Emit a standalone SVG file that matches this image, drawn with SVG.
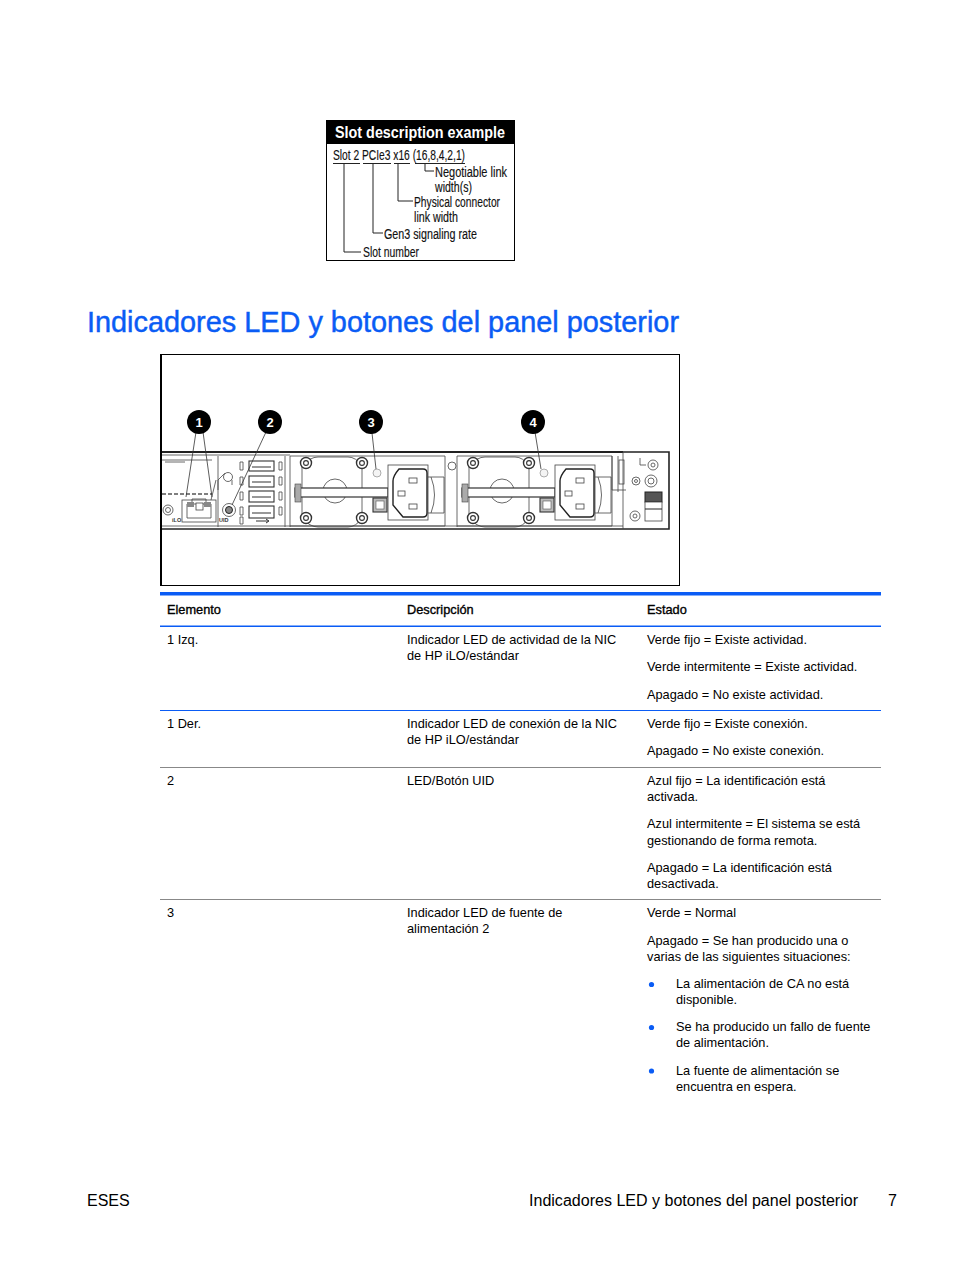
<svg xmlns="http://www.w3.org/2000/svg" xmlns:xlink="http://www.w3.org/1999/xlink" width="954" height="1270" viewBox="0 0 954 1270">
<style>
text{font-family:"Liberation Sans",Arial,sans-serif;fill:#000}
.t{font-size:12.78px}
.h{font-size:12.78px;stroke:#000;stroke-width:.35}
.f{font-size:16px}
.s{font-size:14px;fill:#111;stroke:#111;stroke-width:.15}
.l{stroke:#222;stroke-width:1;fill:none}
.k{stroke:#444;stroke-width:.8;fill:none}
.kw{stroke:#444;stroke-width:.8;fill:#fff}
.lead{stroke:#333;stroke-width:.8;fill:none}
.n{font-size:13px;font-weight:bold;text-anchor:middle}
</style>
<defs>
<g id="screw"><circle r="5.500" fill="#fff" stroke="#333" stroke-width="1.400"/><circle r="2.400" fill="#fff" stroke="#333" stroke-width="1.100"/></g>
<g id="psu">
<path class="k" d="M302 466Q310 457 318 457H348Q356 457 362 466V518Q356 527 348 527H318Q310 527 302 518Z"/>
<circle class="k" cx="335" cy="491" r="12"/>
<use xlink:href="#screw" x="306" y="463"/><use xlink:href="#screw" x="362" y="463"/>
<use xlink:href="#screw" x="306" y="518"/><use xlink:href="#screw" x="362" y="518"/>
<rect x="295" y="488" width="93" height="9" fill="#fff" stroke="#333" stroke-width="1.200"/>
<rect x="295" y="484" width="6" height="18" fill="#aaa" stroke="#444" stroke-width=".6"/>
<rect x="373" y="498" width="14" height="14" fill="#bbb" stroke="#333" stroke-width="1.100"/>
<rect x="376" y="501" width="8" height="8" fill="#fff" stroke="#555" stroke-width=".6"/>
<circle cx="377" cy="473" r="4" fill="#f4f4f4" stroke="#999" stroke-width=".8"/>
<rect x="388" y="465" width="40" height="55" fill="#fff" stroke="#444" stroke-width=".8"/>
<path fill="#fff" stroke="#222" stroke-width="1.400" d="M399 469H423Q427 469 427 473V513Q427 517 423 517H403L393 505V481Q393 476 399 469Z"/>
<rect x="409" y="478" width="8" height="5" class="k"/><rect x="398" y="491" width="7" height="5" class="k"/><rect x="409" y="504" width="8" height="5" class="k"/>
<path class="k" d="M428 477H444V513H428M431 477Q438 495 431 513"/>
<path class="k" d="M290 456H445M290 526H445M445 456V526"/>
</g>
</defs>

<rect width="954" height="1270" fill="#fff"/>

<g id="slot-example">
<rect x="326.500" y="120.500" width="188" height="140" fill="#fff" stroke="#000"/>
<rect x="326" y="120" width="189" height="24" fill="#000"/>
<text x="335" y="138" font-size="16.500" font-weight="bold" style="fill:#fff" textLength="170" lengthAdjust="spacingAndGlyphs">Slot description example</text>
<text class="s" x="333" y="160" textLength="132" lengthAdjust="spacingAndGlyphs">Slot 2 PCIe3 x16 (16,8,4,2,1)</text>
<text class="s" x="435" y="177" textLength="72" lengthAdjust="spacingAndGlyphs">Negotiable link</text>
<text class="s" x="435" y="192" textLength="37" lengthAdjust="spacingAndGlyphs">width(s)</text>
<text class="s" x="414" y="207" textLength="86" lengthAdjust="spacingAndGlyphs">Physical connector</text>
<text class="s" x="414" y="222" textLength="44" lengthAdjust="spacingAndGlyphs">link width</text>
<text class="s" x="384" y="239" textLength="93" lengthAdjust="spacingAndGlyphs">Gen3 signaling rate</text>
<text class="s" x="363" y="257" textLength="56" lengthAdjust="spacingAndGlyphs">Slot number</text>
<path class="l" d="M333 163.500H360M363 163.500H391M394 163.500H410M415 163.500H465"/>
<path class="l" d="M344 164V252H361M373 164V233H383M398 164V201H413M425 164V171H434"/>
</g>

<text id="title" x="87" y="332" font-size="29.300" style="fill:#0a5cf5;stroke:#0a5cf5;stroke-width:.45" textLength="592" lengthAdjust="spacingAndGlyphs">Indicadores LED y botones del panel posterior</text>

<g id="figure">
<rect x="160.500" y="354.500" width="519" height="231" fill="#fff" stroke="#000"/>
<path d="M161 354V586" stroke="#000" stroke-width="2"/>
<g id="chassis">
<path d="M162 452H623" stroke="#222" stroke-width="2.200" fill="none"/>
<path d="M623 452H669V529H162" stroke="#222" stroke-width="1.600" fill="none"/>
<path d="M162 455H290M162 526H623" class="k"/>
<path class="k" d="M290 456V527M457 456V527M623 452V529M218 456V527M285 456V527"/>
<use xlink:href="#psu"/>
<use xlink:href="#psu" x="167"/>
<circle cx="452" cy="466" r="4" class="k"/>
<path class="k" d="M162 460H212M165 462H185"/>
<path d="M162 494H212" stroke="#555" stroke-width="1.500" stroke-dasharray="4 2"/>
<circle cx="168" cy="510" r="5" class="k"/><circle cx="168" cy="510" r="2.500" class="k"/>
<path class="k" d="M218 490V480L225 473 232 480V485M216 480L211 500"/>
<circle cx="228" cy="477" r="4.500" class="kw"/>
<rect x="182" y="500" width="34" height="22" class="kw"/>
<path class="k" d="M187 504H211V518H187ZM192 504V499H206V504"/>
<rect x="187" y="502" width="7" height="5" fill="#888"/><rect x="204" y="502" width="7" height="5" fill="#888"/>
<rect x="196" y="503" width="7" height="7" class="kw"/>
<circle cx="229" cy="510" r="6.500" class="kw"/><circle cx="229" cy="510" r="3.500" fill="#888" stroke="#222" stroke-width="1"/>
<text x="172" y="522" font-size="5.500" font-weight="bold" style="fill:#333">iLO</text>
<text x="219" y="522" font-size="5.500" font-weight="bold" style="fill:#333">UID</text>
<g fill="#fff" stroke="#333" stroke-width="1.100">
<rect x="249" y="461" width="25" height="10"/><rect x="249" y="476" width="25" height="11"/><rect x="249" y="491" width="25" height="11"/><rect x="249" y="506" width="25" height="12"/>
</g>
<path d="M252 467H271M252 482H271M252 497H271M252 513H271" stroke="#777" stroke-width="1.500"/>
<path class="k" d="M240 462h3v8h-3zM240 477h3v8h-3zM240 492h3v8h-3zM240 507h3v8h-3zM240 517h3v7h-3zM279 462h3v8h-3zM279 477h3v8h-3zM279 492h3v8h-3zM279 507h3v8h-3z"/>
<path d="M256 521H268M266 519L269 521L266 523" stroke="#333" stroke-width="1" fill="none"/>
<path class="k" d="M612 456V490H626M618 456V492"/>
<rect x="619" y="460" width="5" height="24" class="k"/>
<path class="k" d="M640 458V465H646"/>
<circle cx="653" cy="465" r="5" class="kw"/><circle cx="653" cy="465" r="2" class="k"/>
<circle cx="636" cy="481" r="4" class="kw"/><circle cx="636" cy="481" r="1.500" class="k"/>
<circle cx="651" cy="481" r="6" class="kw"/><circle cx="651" cy="481" r="3" class="k"/>
<circle cx="635" cy="516" r="5" class="kw"/><circle cx="635" cy="516" r="2" class="k"/>
<rect x="645" y="492" width="17" height="10" fill="#555" stroke="#222"/>
<rect x="645" y="502" width="17" height="19" class="kw"/>
<path d="M645 509H662" stroke="#222"/>
</g>
<g id="connectors">
<path class="lead" d="M196 432L186 497M203 432L212 497"/>
<path class="lead" d="M266 432L232 505"/>
<path class="lead" d="M372 433L376 469"/>
<path class="lead" d="M535 432L541 469"/>
</g>
<g id="c1"><circle cx="199" cy="422" r="12" fill="#000"/><text class="n" x="199" y="427" style="fill:#fff">1</text></g>
<g id="c2"><circle cx="270" cy="422" r="12" fill="#000"/><text class="n" x="270" y="427" style="fill:#fff">2</text></g>
<g id="c3"><circle cx="371" cy="422" r="12" fill="#000"/><text class="n" x="371" y="427" style="fill:#fff">3</text></g>
<g id="c4"><circle cx="533" cy="422" r="12" fill="#000"/><text class="n" x="533" y="427" style="fill:#fff">4</text></g>
</g>

<g id="table-rules">
<rect x="160" y="592" width="721" height="3.500" fill="#0a5cf5"/>
<rect x="160" y="625.500" width="721" height="1.500" fill="#0a5cf5"/>
<rect x="160" y="710" width="721" height="1" fill="#0a5cf5"/>
<rect x="160" y="767" width="721" height="1" fill="#888"/>
<rect x="160" y="899" width="721" height="1" fill="#888"/>
</g>

<g id="table-text">
<text class="h" x="167" y="614">Elemento</text>
<text class="h" x="407" y="614">Descripción</text>
<text class="h" x="647" y="614">Estado</text>

<text class="t" x="167" y="644">1 Izq.</text>
<text class="t" x="407" y="644">Indicador LED de actividad de la NIC</text>
<text class="t" x="407" y="660">de HP iLO/estándar</text>
<text class="t" x="647" y="644">Verde fijo = Existe actividad.</text>
<text class="t" x="647" y="671">Verde intermitente = Existe actividad.</text>
<text class="t" x="647" y="699">Apagado = No existe actividad.</text>

<text class="t" x="167" y="728">1 Der.</text>
<text class="t" x="407" y="728">Indicador LED de conexión de la NIC</text>
<text class="t" x="407" y="744">de HP iLO/estándar</text>
<text class="t" x="647" y="728">Verde fijo = Existe conexión.</text>
<text class="t" x="647" y="755">Apagado = No existe conexión.</text>

<text class="t" x="167" y="785">2</text>
<text class="t" x="407" y="785">LED/Botón UID</text>
<text class="t" x="647" y="785">Azul fijo = La identificación está</text>
<text class="t" x="647" y="801">activada.</text>
<text class="t" x="647" y="828">Azul intermitente = El sistema se está</text>
<text class="t" x="647" y="845">gestionando de forma remota.</text>
<text class="t" x="647" y="872">Apagado = La identificación está</text>
<text class="t" x="647" y="888">desactivada.</text>

<text class="t" x="167" y="917">3</text>
<text class="t" x="407" y="917">Indicador LED de fuente de</text>
<text class="t" x="407" y="933">alimentación 2</text>
<text class="t" x="647" y="917">Verde = Normal</text>
<text class="t" x="647" y="945">Apagado = Se han producido una o</text>
<text class="t" x="647" y="961">varias de las siguientes situaciones:</text>
<text class="t" x="676" y="988">La alimentación de CA no está</text>
<text class="t" x="676" y="1004">disponible.</text>
<text class="t" x="676" y="1031">Se ha producido un fallo de fuente</text>
<text class="t" x="676" y="1047">de alimentación.</text>
<text class="t" x="676" y="1075">La fuente de alimentación se</text>
<text class="t" x="676" y="1091">encuentra en espera.</text>
</g>
<g id="bullets" fill="#0a5cf5">
<circle cx="651.500" cy="984.500" r="2.600"/>
<circle cx="651.500" cy="1027.500" r="2.600"/>
<circle cx="651.500" cy="1071" r="2.600"/>
</g>

<g id="footer">
<text class="f" x="87" y="1206">ESES</text>
<text class="f" x="529" y="1206" textLength="329" lengthAdjust="spacingAndGlyphs">Indicadores LED y botones del panel posterior</text>
<text class="f" x="888" y="1206">7</text>
</g>
</svg>
